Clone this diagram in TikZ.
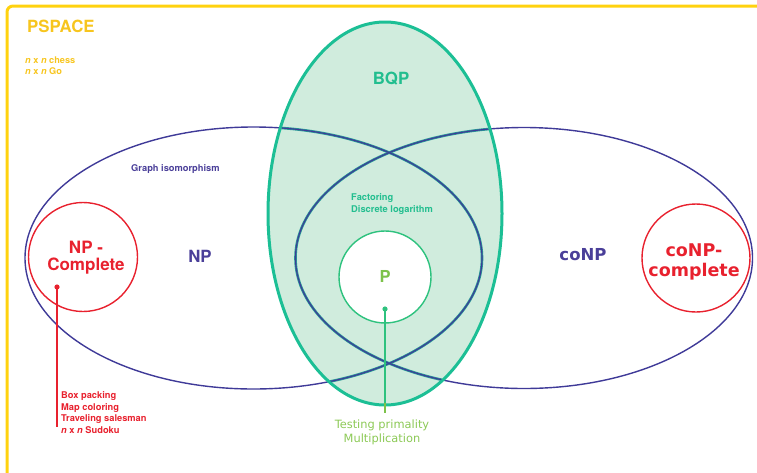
\documentclass[tikz,border=0pt]{standalone}
\usepackage{fontspec}
\setmainfont{TeX Gyre Heros}
\newfontfamily\dejavu{DejaVu Sans}
\usetikzlibrary{shapes.geometric}

\definecolor{pspace}{HTML}{FFD20F}
\definecolor{pspacetxt}{HTML}{F7C51E}
\definecolor{npblue}{HTML}{3F3A98}
\definecolor{nptxt}{HTML}{4A3F99}
\definecolor{bqpline}{HTML}{1CBF95}
\definecolor{bqpfill}{HTML}{D0ECDD}
\definecolor{bqptxt}{HTML}{22BE8F}
\definecolor{redc}{HTML}{E8212E}
\definecolor{pline}{HTML}{2EC27E}
\definecolor{ptxt}{HTML}{7DC24A}
\definecolor{lime}{HTML}{8CC956}

\tikzset{
  classset/.style={ellipse, inner sep=0pt, draw=npblue, line width=1.4pt},
  bqpset/.style={ellipse, inner sep=0pt, draw=bqpline, fill=bqpfill, line width=3pt},
  hardset/.style={circle, inner sep=0pt, draw=redc, line width=1.4pt},
  bigbold/.style={font=\fontsize{16.8}{20}\selectfont\bfseries, anchor=base, inner sep=0pt},
  smallbold/.style={font=\fontsize{9.3}{11.6}\selectfont\bfseries, align=left, inner sep=0pt},
  redline/.style={draw=redc, line width=2pt},
}

\begin{document}
\begin{tikzpicture}[x=1pt, y=-1pt]
\useasboundingbox (0,0) rectangle (757,472);

% PSPACE frame, running off the right and bottom edges
\draw[pspace, line width=3pt, rounded corners=6pt] (7,480) -- (7,6) -- (770,6);
\node[bigbold, text=pspacetxt, anchor=base west] (pspacelbl) at (27,32) {PSPACE};
% multi-line nodes below are placed by the baseline of their last line
\node[font=\fontsize{9.2}{11}\selectfont\bfseries, text=pspacetxt, anchor=base west, align=left, inner sep=0pt] (pspaceex) at (25,74)
  {\textit{n} x \textit{n} chess\\\textit{n} x \textit{n} Go};

% NP and coNP
\node[classset, minimum width=457pt, minimum height=262pt] (np) at (253.5,258) {};
\node[classset, minimum width=457pt, minimum height=261pt] (conp) at (524,258) {};

% BQP
\node[bqpset, minimum width=234pt, minimum height=383pt] (bqp) at (385,213.5) {};

% NP/coNP outlines seen through BQP
\begin{scope}
  \clip (385,213.5) ellipse [x radius=115.5pt, y radius=190pt];
  \draw[bqpline!70!npblue, line width=2.6pt] (253.5,258) ellipse [x radius=228.5pt, y radius=131pt];
  \draw[bqpline!70!npblue, line width=2.6pt] (524,258) ellipse [x radius=228.5pt, y radius=130.5pt];
  \draw[npblue, line width=1.1pt] (253.5,258) ellipse [x radius=228.5pt, y radius=131pt];
  \draw[npblue, line width=1.1pt] (524,258) ellipse [x radius=228.5pt, y radius=130.5pt];
\end{scope}

% P
\node[circle, inner sep=0pt, minimum size=92pt, draw=pline, fill=white, line width=1.4pt] (p) at (385,277) {};

% complete problems
\node[hardset, minimum size=109pt] (npc) at (83,257) {};
\node[hardset, minimum size=108pt] (conpc) at (696,258) {};

% labels
\node[bigbold, text=bqptxt] (bqplbl) at (391,84) {BQP};
\node[bigbold, text=nptxt] (nplbl) at (200,262) {NP};
\node[bigbold, text=nptxt, font=\dejavu\fontsize{16.5}{20}\selectfont\bfseries] (conplbl) at (583,260) {coNP};
\node[bigbold, text=ptxt, font=\fontsize{16.5}{20}\selectfont\bfseries] (plbl) at (385,282) {P};
\node[bigbold, text=redc, align=center, font=\fontsize{17}{17}\selectfont\bfseries] (npclbl) at (86,270) {NP -\\Complete};
\node[bigbold, text=redc, align=center, font=\dejavu\fontsize{17.5}{20}\selectfont\bfseries] (conpclbl) at (694,276) {coNP-\\complete};

\node[smallbold, text=nptxt, anchor=base west] (gi) at (131,171) {Graph isomorphism};
\node[smallbold, text=bqptxt, anchor=base west, font=\fontsize{9.3}{12}\selectfont\bfseries] (fact) at (351,212)
  {Factoring\\Discrete logarithm};

% NP-complete examples
\fill[redc] (57,287) circle (2.6pt) coordinate (npcdot);
\coordinate (npcend) at (57,427);
\draw[redline] (npcdot) -- (npcend);
\node[smallbold, text=redc, anchor=base west] (npcex) at (61,433.5)
  {Box packing\\Map coloring\\Traveling salesman\\\textit{n} x \textit{n} Sudoku};

% P examples
\fill[pline] (385,309) circle (2.6pt) coordinate (pdot);
\coordinate (pbottom) at (385,403);
\coordinate (pend) at (385,413);
\draw[pline, line width=2pt] (pdot) -- (pbottom);
\draw[ptxt, line width=2pt] (pbottom) -- (pend);
\node[text=lime, font=\dejavu\fontsize{11.4}{14}\selectfont, align=center, anchor=base, inner sep=0pt] (pex) at (382,442)
  {Testing primality\\Multiplication};

\end{tikzpicture}
\end{document}
